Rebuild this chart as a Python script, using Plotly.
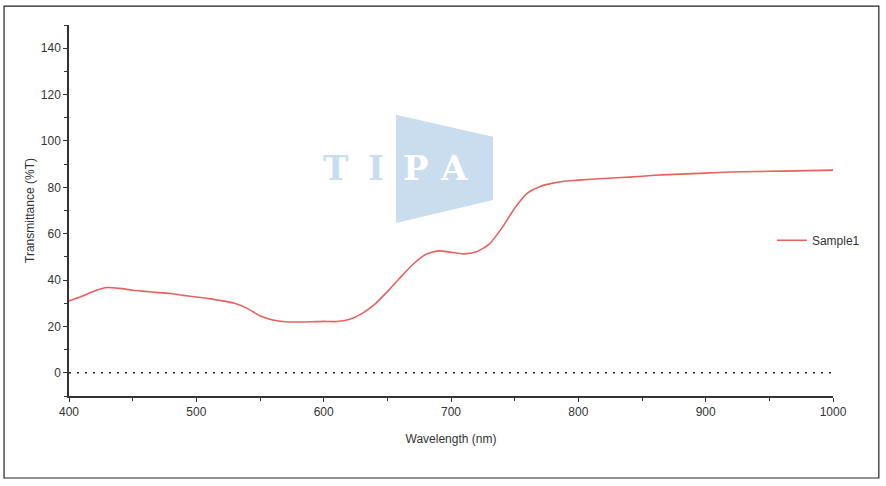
import plotly.graph_objects as go

# --- Data ---
wavelength = [400, 410, 420, 430, 440, 450, 460, 470, 480, 490, 500, 510, 520, 530,
              540, 550, 560, 570, 580, 590, 600, 610, 620, 630, 640, 650, 660, 670,
              680, 690, 700, 710, 720, 730, 740, 750, 760, 770, 780, 790, 800, 820,
              840, 860, 880, 900, 920, 940, 960, 980, 1000]
transmittance = [31.0, 33.0, 35.3, 36.8, 36.4, 35.6, 35.1, 34.6, 34.2, 33.4, 32.7, 32.0,
                 31.1, 30.0, 27.8, 24.6, 22.8, 22.0, 21.9, 22.0, 22.2, 22.1, 23.0, 25.5,
                 29.5, 35.0, 41.0, 46.7, 51.0, 52.6, 52.0, 51.3, 52.2, 55.5, 62.5, 71.0,
                 77.5, 80.4, 81.8, 82.7, 83.1, 83.8, 84.4, 85.2, 85.7, 86.1, 86.6, 86.8,
                 87.0, 87.2, 87.4]
series_name = 'Sample1'

x_ticks = [400, 500, 600, 700, 800, 900, 1000]
y_ticks = [0, 20, 40, 60, 80, 100, 120, 140]

axis_col = '#333333'
font_family = 'Liberation Sans Narrow, Liberation Sans, Arial, sans-serif'

fig = go.Figure()

# --- Spectrum ---
fig.add_trace(go.Scatter(
    x=wavelength, y=transmittance, mode='lines', name=series_name,
    line=dict(color='#e8625e', width=1.6, shape='spline', smoothing=0.6)
))

# --- Zero baseline (dotted) ---
fig.add_shape(type='line', xref='x', yref='y', x0=400, x1=1000, y0=0, y1=0,
              line=dict(color='#222222', width=1.5, dash='2px,6px'), layer='below')

# --- Outer frame ---
fig.add_shape(type='rect', xref='paper', yref='paper',
              x0=-0.085, x1=1.060, y0=-0.221, y1=1.051,
              line=dict(color='#222222', width=1.2))

# --- TIPA watermark ---
fig.add_shape(type='path', xref='paper', yref='paper',
              path='M 0.428,0.758 L 0.555,0.699 L 0.555,0.528 L 0.428,0.466 Z',
              fillcolor='#c9ddee', line=dict(width=0), layer='below')
letters = ['T', 'I', 'P', 'A']
letter_x = [0.349, 0.402, 0.454, 0.504]
letter_col = ['#c9ddee', '#c9ddee', 'white', 'white']
for ch, lx, lc in zip(letters, letter_x, letter_col):
    fig.add_annotation(text=ch, xref='paper', yref='paper', x=lx, y=0.615,
                       showarrow=False, xanchor='center', yanchor='middle',
                       font=dict(family='DejaVu Serif', size=34, color=lc, weight='bold'))

# --- Layout ---
fig.update_layout(
    width=886, height=486,
    margin=dict(l=69, r=53, t=25, b=90),
    plot_bgcolor='white', paper_bgcolor='white',
    font=dict(family=font_family, size=12, color=axis_col),
    showlegend=True,
    legend=dict(x=0.92, y=0.42, xanchor='left', yanchor='middle',
                bgcolor='rgba(0,0,0,0)', font=dict(size=12, color=axis_col)),
)

fig.update_xaxes(
    range=[400, 1000], tickvals=x_ticks, showgrid=False, zeroline=False,
    showline=True, linecolor=axis_col, linewidth=1.5,
    ticks='outside', ticklen=4, tickcolor=axis_col,
    minor=dict(ticks='outside', dtick=50, ticklen=3, tickcolor=axis_col),
    title=dict(text='Wavelength (nm)', font=dict(size=12), standoff=16),
)
fig.update_yaxes(
    range=[-10, 150], tickvals=y_ticks, showgrid=False, zeroline=False,
    showline=True, linecolor=axis_col, linewidth=1.5,
    ticks='outside', ticklen=4, tickcolor=axis_col,
    minor=dict(ticks='outside', tick0=0, dtick=10, ticklen=3, tickcolor=axis_col),
    title=dict(text='Transmittance (%T)', font=dict(size=12), standoff=4),
)

# drop the page's default body margin so the figure sits at the window origin
fig.write_html('out.html', config={'displayModeBar': False},
               post_script="document.body.style.margin='0';")
